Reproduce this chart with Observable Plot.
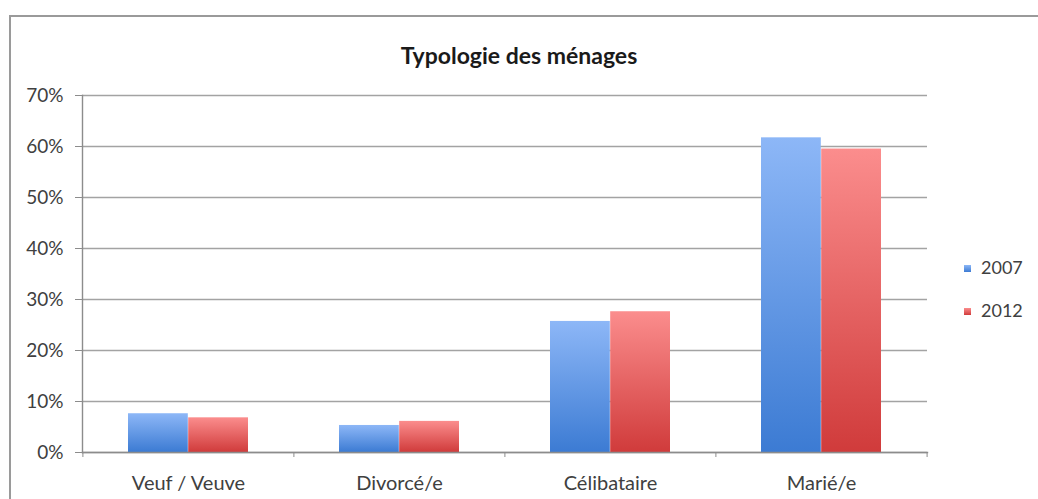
<!DOCTYPE html>
<html><head><meta charset="utf-8">
<script src="https://cdn.jsdelivr.net/npm/d3@7"></script>
<script src="https://cdn.jsdelivr.net/npm/@observablehq/plot@0.6"></script>
<style>
body{margin:0;background:#fff;font-family:Lato,sans-serif;}
#wrap{position:relative;width:1038px;height:499px;overflow:hidden;}
#frame{position:absolute;left:9px;top:15px;width:1100px;height:600px;border:2px solid #9a9a9a;box-sizing:border-box;}
#title{position:absolute;top:41px;left:0;width:1038px;text-align:center;font-weight:bold;font-size:23px;line-height:28px;color:#1a1a1a;}
#chart{position:absolute;left:0;top:0;}
.leg{position:absolute;left:964px;font-size:18px;color:#404040;line-height:22px;}
.leg span{display:inline-block;width:7px;height:7px;margin-right:10px;vertical-align:2px;}
</style></head>
<body>
<div id="wrap">
<div id="frame"></div>
<div id="chart"></div>
<div id="title">Typologie des ménages</div>
<div class="leg" style="top:256px"><span style="background:linear-gradient(#8db7f7,#3c7bd3)"></span>2007</div>
<div class="leg" style="top:299px"><span style="background:linear-gradient(#fb8d8d,#d03b3b)"></span>2012</div>
</div>
<script>
const categories = ["Veuf / Veuve", "Divorcé/e", "Célibataire", "Marié/e"];
const years = ["2007", "2012"];
const values2007 = [0.076, 0.053, 0.257, 0.617];
const values2012 = [0.068, 0.061, 0.276, 0.595];
const yTicks = [0, 0.1, 0.2, 0.3, 0.4, 0.5, 0.6, 0.7];

const data2007 = categories.map((c, i) => ({category: c, year: years[0], value: values2007[i]}));
const data2012 = categories.map((c, i) => ({category: c, year: years[1], value: values2012[i]}));

const axisColor = "#8c8c8c";
const plot = Plot.plot({
  width: 1038, height: 499,
  marginLeft: 82, marginRight: 111, marginTop: 95, marginBottom: 47,
  style: {fontFamily: "Lato, sans-serif", fontSize: "19px", color: "#404040", background: "transparent"},
  x: {domain: categories, paddingInner: 0.43, paddingOuter: 0.215, label: null},
  y: {domain: [0, 0.7], label: null},
  marks: [
    Plot.gridY(yTicks, {stroke: "#a3a3a3", strokeOpacity: 1, strokeWidth: 1.4}),
    Plot.barY(data2007, {x: "category", y: "value", fill: "url(#g2007)", insetRight: 60.2}),
    Plot.barY(data2012, {x: "category", y: "value", fill: "url(#g2012)", insetLeft: 60.2}),
    Plot.frame({anchor: "left", stroke: axisColor, strokeWidth: 1.4}),
    Plot.frame({anchor: "bottom", stroke: axisColor, strokeWidth: 1.4}),
    Plot.ruleX(categories, {x: d => d, dx: -105.6, insetTop: 357, insetBottom: -5, stroke: axisColor}),
    Plot.ruleX(categories.slice(-1), {x: d => d, dx: 105.6, insetTop: 357, insetBottom: -5, stroke: axisColor}),
    Plot.axisY(yTicks, {tickFormat: d3.format(".0%"), tickSize: 7, tickPadding: 12, stroke: axisColor, fontSize: 19}),
    Plot.axisX({tickSize: 0, tickPadding: 23, fontSize: 20})
  ]
});

const ns = "http://www.w3.org/2000/svg";
const defs = document.createElementNS(ns, "defs");
function grad(id, top, bottom) {
  const g = document.createElementNS(ns, "linearGradient");
  g.setAttribute("id", id);
  g.setAttribute("x1", "0"); g.setAttribute("y1", "0");
  g.setAttribute("x2", "0"); g.setAttribute("y2", "1");
  [[0, top], [1, bottom]].forEach(([o, c]) => {
    const s = document.createElementNS(ns, "stop");
    s.setAttribute("offset", o);
    s.setAttribute("stop-color", c);
    g.appendChild(s);
  });
  defs.appendChild(g);
}
grad("g2007", "#8db7f7", "#3c7bd3");
grad("g2012", "#fb8d8d", "#d03b3b");
plot.insertBefore(defs, plot.firstChild);
document.getElementById("chart").appendChild(plot);
</script>
</body></html>
